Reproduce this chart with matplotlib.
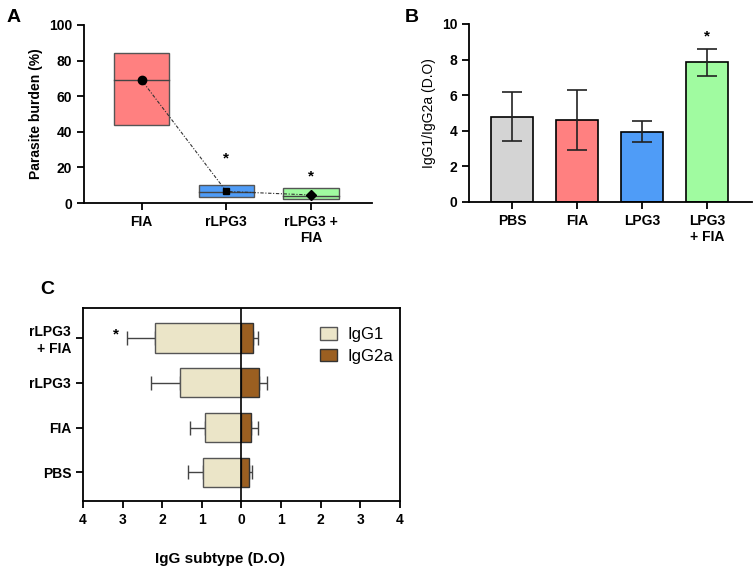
import matplotlib
matplotlib.use("Agg")
import matplotlib.pyplot as plt
import numpy as np

plt.rcParams['font.family'] = ['Liberation Sans', 'DejaVu Sans']
plt.rcParams['font.weight'] = 'bold'
plt.rcParams['axes.labelweight'] = 'bold'

# panel A: parasite burden (floating boxes: min-max, median, mean)
a_groups = ['FIA', 'rLPG3', 'rLPG3 +\nFIA']
a_low = [44, 3.5, 2]
a_high = [84, 10, 8.5]
a_median = [69, 6, 4]
a_mean = [69, 6.5, 4.5]
a_star = [None, 25, 15]
a_colors = ['#ff8080', '#4f9cf7', '#a0fba0']
a_markers = ['o', 's', 'D']

# panel B: IgG1/IgG2a ratio
b_groups = ['PBS', 'FIA', 'LPG3', 'LPG3\n+ FIA']
b_vals = [4.8, 4.6, 3.95, 7.85]
b_err = [1.4, 1.7, 0.6, 0.75]
b_star = [None, None, None, 9.3]
b_colors = ['#d4d4d4', '#ff8080', '#4f9cf7', '#a0fba0']

# panel C: IgG subtypes
c_groups = ['PBS', 'FIA', 'rLPG3', 'rLPG3\n+ FIA']
igg1 = [0.97, 0.93, 1.54, 2.17]
igg1_err = [0.39, 0.37, 0.75, 0.72]
igg2a = [0.18, 0.24, 0.44, 0.28]
igg2a_err = [0.09, 0.19, 0.20, 0.13]
c_star = [None, None, None, 3.16]

fig = plt.figure(figsize=(7.54, 5.68), dpi=100)

# ---- A
ax = fig.add_axes([0.1114, 0.6426, 0.382, 0.3134])
xa = np.arange(len(a_groups))
ax.bar(xa, np.array(a_high) - np.array(a_low), bottom=a_low, width=0.65,
       color=a_colors, edgecolor='#555555', linewidth=1.0, zorder=2)
for i in xa:
    ax.plot([i - 0.325, i + 0.325], [a_median[i], a_median[i]], color='#444444', lw=1.0, zorder=3)
    ax.plot(i, a_mean[i], marker=a_markers[i], color='black', ms=6 if i == 0 else 5, zorder=4)
    if a_star[i] is not None:
        ax.text(i, a_star[i], '*', ha='center', va='center', fontsize=11)
ax.plot(xa, a_mean, color='#333333', lw=0.8, ls=(0, (1, 1.5, 3, 1.5)), zorder=3)
ax.set_xlim(-0.68, 2.72)
ax.set_ylim(0, 100)
ax.set_yticks([0, 20, 40, 60, 80, 100])
ax.set_xticks(xa)
ax.set_xticklabels(a_groups)
ax.set_ylabel('Parasite burden (%)', fontsize=10)
for s in ['top', 'right']:
    ax.spines[s].set_visible(False)
for s in ['left', 'bottom']:
    ax.spines[s].set_linewidth(1.3)
ax.tick_params(width=1.3, length=5, labelsize=10)
fig.text(0.008, 0.985, 'A', fontsize=14, fontweight='bold', va='top')

# ---- B
ax = fig.add_axes([0.622, 0.6444, 0.3753, 0.3134])
xb = np.arange(len(b_groups))
ax.bar(xb, b_vals, width=0.65, color=b_colors, edgecolor='black', linewidth=1.2, zorder=2)
ax.errorbar(xb, b_vals, yerr=b_err, fmt='none', ecolor='#222222', elinewidth=1.2,
            capsize=7.5, capthick=1.2, zorder=3)
for i in xb:
    if b_star[i] is not None:
        ax.text(i, b_star[i], '*', ha='center', va='center', fontsize=11)
ax.set_xlim(-0.66, 3.69)
ax.set_ylim(0, 10)
ax.set_yticks([0, 2, 4, 6, 8, 10])
ax.set_xticks(xb)
ax.set_xticklabels(b_groups)
ax.set_ylabel('IgG1/IgG2a (D.O)', fontsize=10, fontweight='normal')
for s in ['top', 'right']:
    ax.spines[s].set_visible(False)
for s in ['left', 'bottom']:
    ax.spines[s].set_linewidth(1.3)
ax.tick_params(width=1.3, length=5, labelsize=10)
fig.text(0.537, 0.985, 'B', fontsize=14, fontweight='bold', va='top')

# ---- C
ax = fig.add_axes([0.110, 0.118, 0.4204, 0.3398])
yc = np.arange(len(c_groups))
neg = -np.array(igg1)
ax.barh(yc, neg, height=0.65, color='#ebe5c8', edgecolor='#555555', linewidth=1.0,
        label='IgG1', zorder=2)
ax.barh(yc, igg2a, height=0.65, color='#9b5f21', edgecolor='#333333', linewidth=1.0,
        label='IgG2a', zorder=2)
ax.errorbar(neg, yc, xerr=[igg1_err, np.zeros(len(yc))], fmt='none', ecolor='#444444',
            elinewidth=1.0, capsize=5, capthick=1.0, zorder=1)
ax.errorbar(igg2a, yc, xerr=[np.zeros(len(yc)), igg2a_err], fmt='none', ecolor='#444444',
            elinewidth=1.0, capsize=5, capthick=1.0, zorder=1)
for i in yc:
    if c_star[i] is not None:
        ax.text(-c_star[i], i + 0.08, '*', ha='center', va='center', fontsize=11)
ax.axvline(0, color='black', lw=1.2, zorder=3)
ax.set_xlim(-4, 4)
ax.set_ylim(-0.64, 3.67)
ax.set_xticks([-4, -3, -2, -1, 0, 1, 2, 3, 4])
ax.set_xticklabels(['4', '3', '2', '1', '0', '1', '2', '3', '4'])
ax.set_yticks(yc)
ax.set_yticklabels(c_groups)
for s in ax.spines.values():
    s.set_linewidth(1.3)
ax.tick_params(width=1.3, length=5, labelsize=10)
ax.legend(loc='upper right', bbox_to_anchor=(1.025, 0.98), frameon=False,
          prop={'weight': 'normal', 'size': 12},
          handlelength=1.0, handleheight=0.8, handletextpad=0.6, labelspacing=0.4)
fig.text(0.292, 0.008, 'IgG subtype (D.O)', fontsize=11, fontweight='bold', ha='center')
fig.text(0.053, 0.49, 'C', fontsize=14, fontweight='bold', va='center')

fig.savefig('out.png', dpi=100)
